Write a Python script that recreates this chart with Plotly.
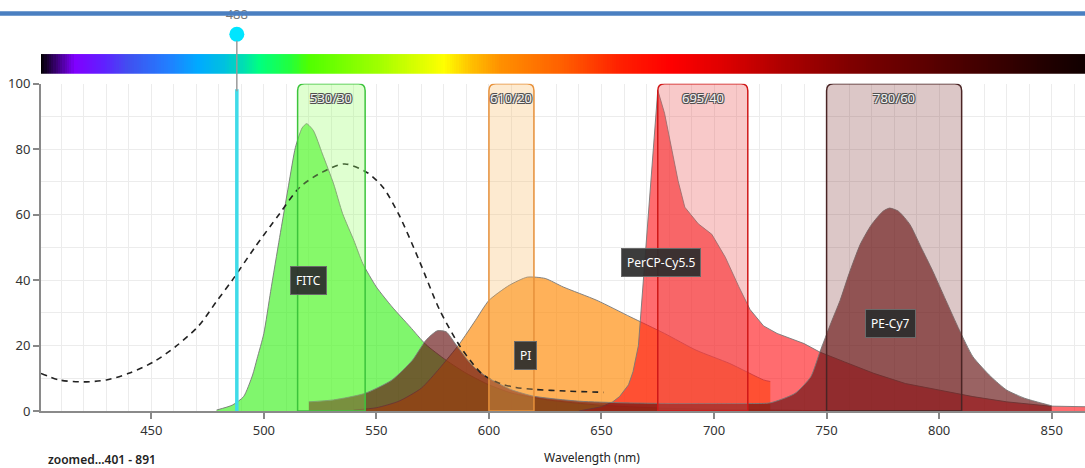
import numpy as np
import plotly.graph_objects as go

# ---------------- data ----------------
x_range = [401, 864.8]
x_ticks = [450, 500, 550, 600, 650, 700, 750, 800, 850]
y_ticks = [0, 20, 40, 60, 80, 100]

# dashed excitation curve
ex_nm = [401, 409, 420, 430, 440, 451, 461, 471, 479, 486, 496, 507, 516, 526, 536,
         546, 553, 560, 569, 578, 586, 590, 597, 605, 612, 620, 634, 651]
ex_val = [11.5, 9.5, 8.9, 9.5, 11.5, 15, 19.8, 26, 33.5, 40, 50, 60.3, 68.4, 73, 75.5,
          72.8, 68.3, 60, 46, 31, 21, 17, 11.3, 8.4, 7.2, 6.6, 6.1, 5.7]

fitc_nm = [479, 486, 491, 495, 497, 500, 503, 507, 511, 514, 517, 519, 522, 526, 531, 535, 540,
           544, 550, 557, 565, 572, 581, 590, 600, 610, 626, 649, 680, 720, 750]
fitc_val = [0.3, 1.8, 4.4, 11, 16, 23.7, 36.5, 53, 69, 80.5, 86.5, 87.8, 85.7, 78.6, 69.4, 60.3, 52.1,
            45, 37.9, 31.8, 25.7, 20.3, 15.5, 11.5, 8, 5.5, 3.4, 1.8, 0.8, 0.3, 0.1]

pi_nm = [540, 550, 560, 570, 578, 587, 594, 600, 609, 617, 625, 633, 648, 663, 678,
         692, 707, 722, 725]
pi_val = [0.3, 1, 3, 7, 13, 20.6, 27.7, 33.8, 38.4, 40.9, 40.5, 37.9, 33.8, 28.7, 23.7,
          18.6, 14.5, 9.5, 9]

percp_nm = [640, 650, 655, 658, 662, 664, 666.4, 668.4, 670.7, 673, 675, 678, 681, 684, 687,
            693, 699, 705, 711, 716, 722, 728, 740, 747, 758, 771, 785, 800, 815, 830,
            849, 865, 891]
percp_val = [0, 1.3, 2.8, 4.4, 8, 12, 20, 38, 60, 80, 98, 91, 80.6, 70.4, 62.3,
             57.2, 54, 47, 38, 31, 26, 23.7, 20.6, 18, 15, 11.5, 8.4, 6.4, 4.4, 2.8,
             1.5, 1.3, 1]

pecy7_nm = [520, 531, 545, 557, 566, 572, 577, 581, 585, 590, 594, 600, 610, 620, 640,
            660, 680, 700, 715, 725, 736, 743, 747, 752, 756, 760, 765, 770, 775, 778,
            782, 787, 792, 797, 803, 809, 815, 823, 830, 838, 845, 850]
pecy7_val = [2.8, 3.4, 5.4, 9.5, 15.5, 21.6, 24.5, 24.2, 20.6, 16, 13, 10, 6.5, 4.5, 3,
             2.5, 2.3, 2.3, 2.3, 2.5, 5.4, 10.5, 18, 27, 33.8, 42, 51, 57, 61, 62,
             61, 57, 50, 43, 33.8, 24.7, 16.6, 10.5, 6.4, 3.9, 2.5, 1.6]

dye_names = ["FITC", "PI", "PerCP-Cy5.5", "PE-Cy7"]
dye_label_x = [519.8, 616.4, 676.4, 778.2]
dye_label_y = [40, 17, 45.4, 26.8]

filter_names = ["530/30", "610/20", "695/40", "780/60"]
filter_center = [530, 610, 695, 780]
filter_width = [30, 20, 40, 60]
filter_line = ["#3cc43c", "#e8913a", "#d01818", "#4a2424"]
filter_fill = ["rgba(150,255,100,0.30)", "rgba(250,185,100,0.30)",
               "rgba(235,90,90,0.33)", "rgba(120,40,40,0.26)"]

laser_nm = [488]

spectrum_nm = [401, 416, 429, 440, 458, 471, 482, 491, 498, 511, 520, 551, 560, 580, 592,
               605, 632, 658, 680, 703, 729, 760, 805, 849, 865]
spectrum_col = ["#000000", "#8000ff", "#6020ff", "#4050f0", "#2080ff", "#00aaff", "#00c0e0",
                "#00e0b0", "#00ff80", "#20ff40", "#50ff00", "#a0ff00", "#c0ff00", "#ffff00",
                "#ffc000", "#ff9000", "#ff6000", "#ff2000", "#ff0000", "#e00000", "#b00000",
                "#800000", "#500000", "#200000", "#100000"]

# ---------------- figure ----------------
W, H = 1085, 468
mt, mb, ml, mr = 5, 57, 41, 0
plot_h = H - mt - mb
plot_w = W - ml - mr
def py(px):  # pixel from top -> paper fraction
    return (H - mb - px) / plot_h
def pxx(px):  # pixel from left -> paper fraction
    return (px - ml) / plot_w

FONT = "Noto Sans, Open Sans, sans-serif"
fig = go.Figure()

# spectrum bar (heatmap on its own axes)
sx = np.arange(401, 866)
lo, hi = spectrum_nm[0], spectrum_nm[-1]
cscale = [[(n - lo) / (hi - lo), c] for n, c in zip(spectrum_nm, spectrum_col)]
fig.add_trace(go.Heatmap(x=sx, y=[0], z=[sx], colorscale=cscale, zmin=lo, zmax=hi,
                         showscale=False, hoverinfo="skip", xaxis="x2", yaxis="y2"))

line_col = "rgba(120,120,120,0.9)"
fig.add_trace(go.Scatter(x=fitc_nm, y=fitc_val, mode="lines", fill="tozeroy",
                         line=dict(color=line_col, width=1, shape="spline", smoothing=0.6),
                         fillcolor="rgba(50,240,20,0.62)", name="FITC", hoverinfo="skip"))
fig.add_trace(go.Scatter(x=pi_nm, y=pi_val, mode="lines", fill="tozeroy",
                         line=dict(color=line_col, width=1, shape="spline", smoothing=0.6),
                         fillcolor="rgba(255,140,10,0.68)", name="PI", hoverinfo="skip"))
fig.add_trace(go.Scatter(x=percp_nm, y=percp_val, mode="lines", fill="tozeroy",
                         line=dict(color=line_col, width=1),
                         fillcolor="rgba(255,25,30,0.64)", name="PerCP-Cy5.5", hoverinfo="skip"))
fig.add_trace(go.Scatter(x=pecy7_nm, y=pecy7_val, mode="lines", fill="tozeroy",
                         line=dict(color=line_col, width=1, shape="spline", smoothing=0.6),
                         fillcolor="rgba(100,15,15,0.65)", name="PE-Cy7", hoverinfo="skip"))
fig.add_trace(go.Scatter(x=ex_nm, y=ex_val, mode="lines",
                         line=dict(color="#222222", width=1.6, dash="6px,5px",
                                   shape="spline", smoothing=0.8),
                         name="excitation", hoverinfo="skip"))

# laser dot and label on an overlay axis spanning the whole plotting height
fig.add_trace(go.Scatter(x=laser_nm, y=[py(30.5)], mode="markers",
                         marker=dict(size=15, color="#00e5ff", line=dict(width=0)),
                         xaxis="x3", yaxis="y3", hoverinfo="skip"))
fig.add_trace(go.Scatter(x=laser_nm, y=[py(12)], mode="text",
                         text=[str(v) for v in laser_nm],
                         textfont=dict(family=FONT, size=13, color="#777777"),
                         xaxis="x3", yaxis="y3", hoverinfo="skip"))

shapes = []
# filter bands with rounded top corners
rx, ry = 3.0, 2.1
for c, w, lc, fc in zip(filter_center, filter_width, filter_line, filter_fill):
    a, b = c - w / 2, c + w / 2
    path = (f"M {a},0 L {a},{100 - ry} Q {a},100 {a + rx},100 L {b - rx},100 "
            f"Q {b},100 {b},{100 - ry} L {b},0 Z")
    shapes.append(dict(type="path", path=path, xref="x", yref="y",
                       line=dict(color=lc, width=1.5), fillcolor=fc, layer="above"))

for l in laser_nm:
    shapes.append(dict(type="line", xref="x", yref="y", x0=l, x1=l, y0=0, y1=98.3,
                       line=dict(color="#3fdbe8", width=3.5), layer="above"))
    shapes.append(dict(type="line", xref="x", yref="paper", x0=l, x1=l,
                       y0=py(88), y1=py(37), line=dict(color="#9a9a9a", width=1.5),
                       layer="above"))

# top blue rule
shapes.append(dict(type="line", xref="paper", yref="paper", x0=-0.05, x1=1.05,
                   y0=py(9.5), y1=py(9.5), line=dict(color="#4a7fc1", width=4.5),
                   layer="above"))

annotations = []
shadow = "-1px -1px 0px #505050, 1px -1px 0px #505050, -1px 1px 0px #505050, 1px 1px 0px #505050"
for n, c in zip(filter_names, filter_center):
    annotations.append(dict(x=c, y=95.6, xref="x", yref="y", text=n, showarrow=False,
                            font=dict(family=FONT, size=13, color="#f2f2f2", shadow=shadow)))
for n, lx, ly in zip(dye_names, dye_label_x, dye_label_y):
    annotations.append(dict(x=lx, y=ly, xref="x", yref="y", text=n, showarrow=False,
                            bgcolor="rgba(45,45,45,0.93)", bordercolor="#6a6a6a",
                            borderwidth=1, borderpad=5,
                            font=dict(family=FONT, size=12, color="#ffffff")))
annotations.append(dict(x=pxx(592), y=py(458), xref="paper", yref="paper",
                        xanchor="center", yanchor="middle",
                        text="Wavelength (nm)", showarrow=False,
                        font=dict(family=FONT, size=12, color="#222222")))
annotations.append(dict(x=pxx(46), y=py(460), xref="paper", yref="paper",
                        text="zoomed...401 - 891", showarrow=False,
                        xanchor="left", yanchor="middle",
                        font=dict(family=FONT, size=12, color="#222222", weight=600)))

fig.update_layout(
    width=W, height=H,
    margin=dict(l=ml, r=mr, t=mt, b=mb, pad=0),
    paper_bgcolor="white", plot_bgcolor="rgba(0,0,0,0)",
    showlegend=False,
    font=dict(family=FONT, size=13, color="#333333"),
    xaxis=dict(range=x_range, domain=[0, 1], tickvals=x_ticks, ticks="outside", ticklen=6,
               tickcolor="#888888", tickwidth=1.5,
               showline=True, linecolor="#8a8a8a", linewidth=2,
               showgrid=True, gridcolor="#ececec", gridwidth=1,
               minor=dict(dtick=10, tick0=400, showgrid=True, gridcolor="#ececec", ticks=""),
               zeroline=False, tickfont=dict(family=FONT, size=13, color="#333333"),
               anchor="y"),
    yaxis=dict(range=[0, 100], domain=[0, py(80.5)], tickvals=y_ticks, ticks="outside",
               ticklen=6, tickcolor="#888888", tickwidth=1.5,
               showline=True, linecolor="#8a8a8a", linewidth=2,
               showgrid=True, gridcolor="#ececec",
               minor=dict(dtick=10, showgrid=True, gridcolor="#ececec", ticks=""),
               zeroline=False, tickfont=dict(family=FONT, size=13, color="#333333"),
               anchor="x"),
    xaxis2=dict(range=x_range, domain=[0, 1], visible=False, showgrid=False, anchor="y2"),
    yaxis2=dict(domain=[py(70.5), py(50.5)], visible=False, showgrid=False, anchor="x2"),
    xaxis3=dict(range=x_range, domain=[0, 1], visible=False, showgrid=False, anchor="y3"),
    yaxis3=dict(range=[0, 1], domain=[0, 1], visible=False, showgrid=False, anchor="x3"),
    shapes=shapes,
    annotations=annotations,
)

fig.write_html("out.html", config={"displayModeBar": False},
               post_script="document.body.style.margin='0';document.body.style.overflow='hidden';")
